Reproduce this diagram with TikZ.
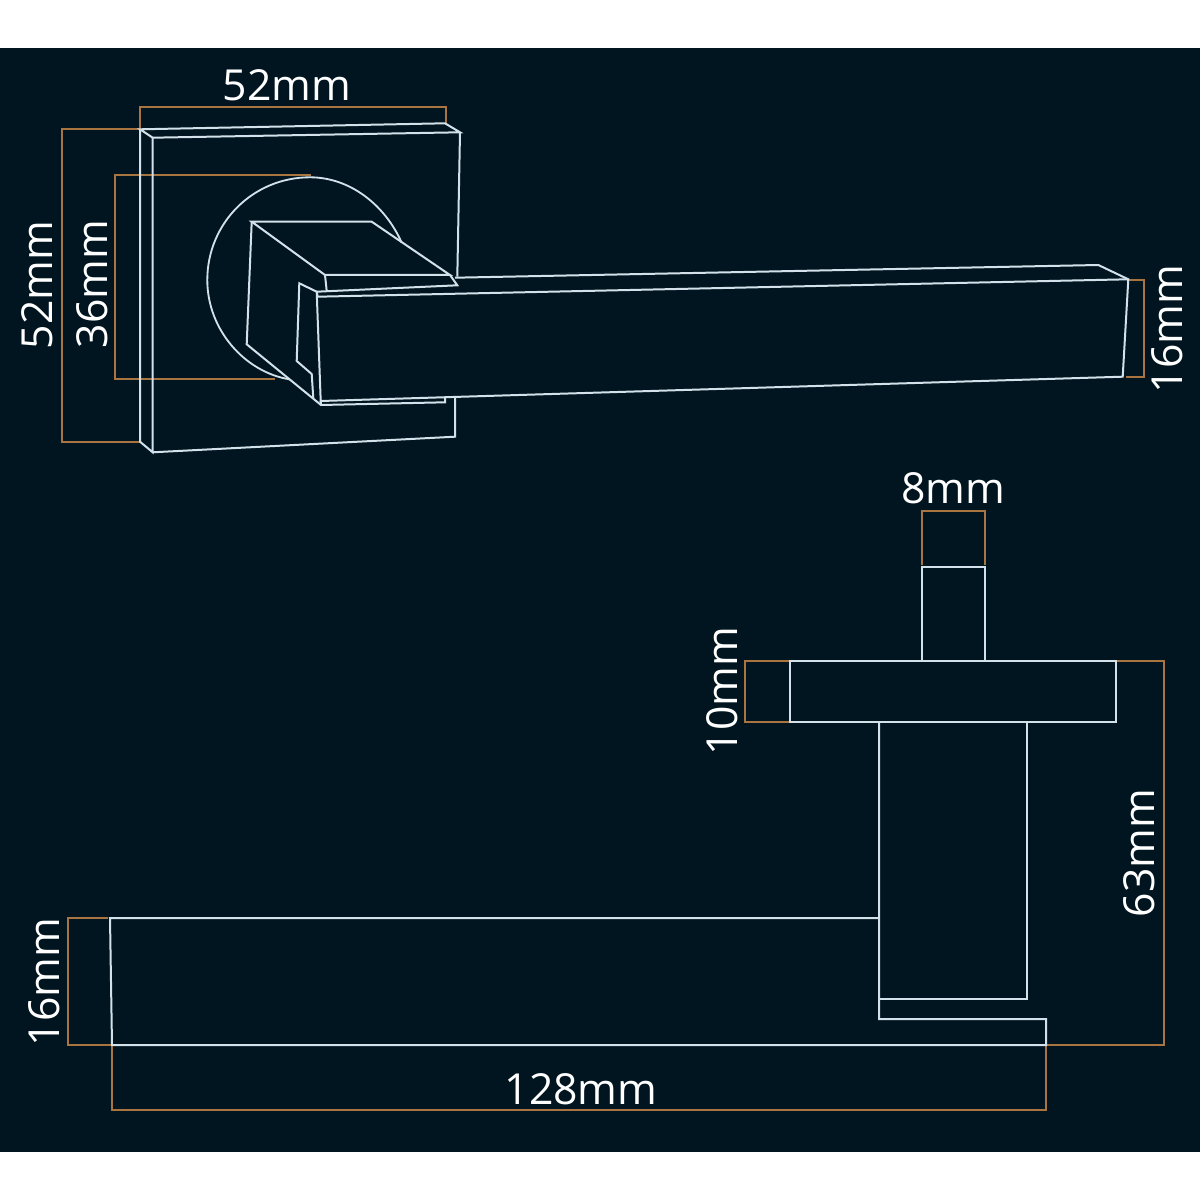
\documentclass[tikz,border=0pt]{standalone}
\usepackage{fontspec}
\setmainfont{Open Sans}
\definecolor{bgdark}{HTML}{011520}
\definecolor{linecol}{HTML}{D3E2EA}
\definecolor{dimcol}{HTML}{A8743F}
\tikzset{
  part/.style={draw=linecol,line width=1.42pt,line join=miter},
  partthin/.style={draw=linecol,line width=1.3pt},
  dimline/.style={draw=dimcol,line width=1.42pt,line join=miter},
  lab/.style={text=white,inner sep=0pt,font=\fontsize{30.4}{30.4}\selectfont},
  labv/.style={lab,rotate=90}
}
\begin{document}
\begin{tikzpicture}[x=0.025cm,y=-0.025cm]
\useasboundingbox (0,0) rectangle (1200,1200);
\fill[white] (0,0) rectangle (1200,1200);
\fill[bgdark] (0,48) rectangle (1200,1152);
% dimensions
\draw[dimline] (140,129) -- (140,107) -- (446,107) -- (446,123);
\draw[dimline] (140,129) -- (62,129) -- (62,442) -- (140,442);
\draw[dimline] (311,175) -- (115,175) -- (115,379) -- (275,379);
\draw[dimline] (1128,280) -- (1144,280) -- (1144,377) -- (1126,377);
\draw[dimline] (922,565) -- (922,511) -- (985,511) -- (985,565);
\draw[dimline] (790,661) -- (745,661) -- (745,722) -- (790,722);
\draw[dimline] (1117,661) -- (1164,661) -- (1164,1045) -- (1046,1045);
\draw[dimline] (112,1046) -- (112,1110) -- (1046,1110) -- (1046,1046);
\draw[dimline] (108,918) -- (68,918) -- (68,1045) -- (112,1045);
% rose plate
\draw[part] (140,129.3) -- (445,123.3) -- (460,132.3) -- (152.7,137.7) -- cycle;
\draw[part] (140,129.3) -- (140,441.7) -- (152.7,452.3) -- (152.7,137.7);
\draw[part] (152.7,452.3) -- (455,436.7) -- (455,397.7);
\draw[part] (460,132.3) -- (457.3,276.7);
% rose circle
\draw[partthin] (401.7,242.7) .. controls (385,205) and (350,177.3) .. (310,177.3)
  .. controls (253,177.3) and (207.3,223) .. (207.3,280)
  .. controls (207.3,330) and (245,372) .. (289.3,379.3);
% neck
\draw[part] (251.7,221.7) -- (371.7,221.7) -- (450,275) -- (325,275) -- cycle;
\draw[part] (325,275) -- (326.7,291);
\draw[part] (450,275) -- (457.3,285.3) -- (316.7,291.7) -- (299.3,283.3) -- (296.7,361) -- (311.7,374) -- (313.3,398.3);
\draw[part] (251.7,221.7) -- (246.7,344.3) -- (321,405) -- (445,402.3) -- (445,397.7);
% lever
\draw[part] (455,277.7) -- (1098.3,265) -- (1128.3,279.3);
\draw[part] (316.7,291.7) -- (317.7,296.7) -- (1128.3,279.3) -- (1122.7,376.7) -- (320.7,401) -- cycle;
\draw[part] (320.7,401) -- (321,405);
% side view
\draw[part] (922,661) -- (922,567) -- (985,567) -- (985,661);
\draw[part] (790,661) rectangle (1116,722);
\draw[part] (879,999) -- (1027,999) -- (1027,722);
\draw[part] (879,722) -- (879,1019) -- (1046,1019) -- (1046,1045) -- (112,1045) -- (110,918) -- (879,918);
% labels
\node[lab] (top52) at (287,85.5) {52mm};
\node[labv] (left52) at (37,285) {52mm};
\node[labv] (left36) at (92,284) {36mm};
\node[labv] (right16) at (1167,329) {16mm};
\node[lab] (top8) at (953,488) {8mm};
\node[labv] (side10) at (722,691) {10mm};
\node[labv] (side63) at (1139,853) {63mm};
\node[labv] (side16) at (44,982) {16mm};
\node[lab] (bot128) at (581,1089) {128mm};
\end{tikzpicture}
\end{document}
